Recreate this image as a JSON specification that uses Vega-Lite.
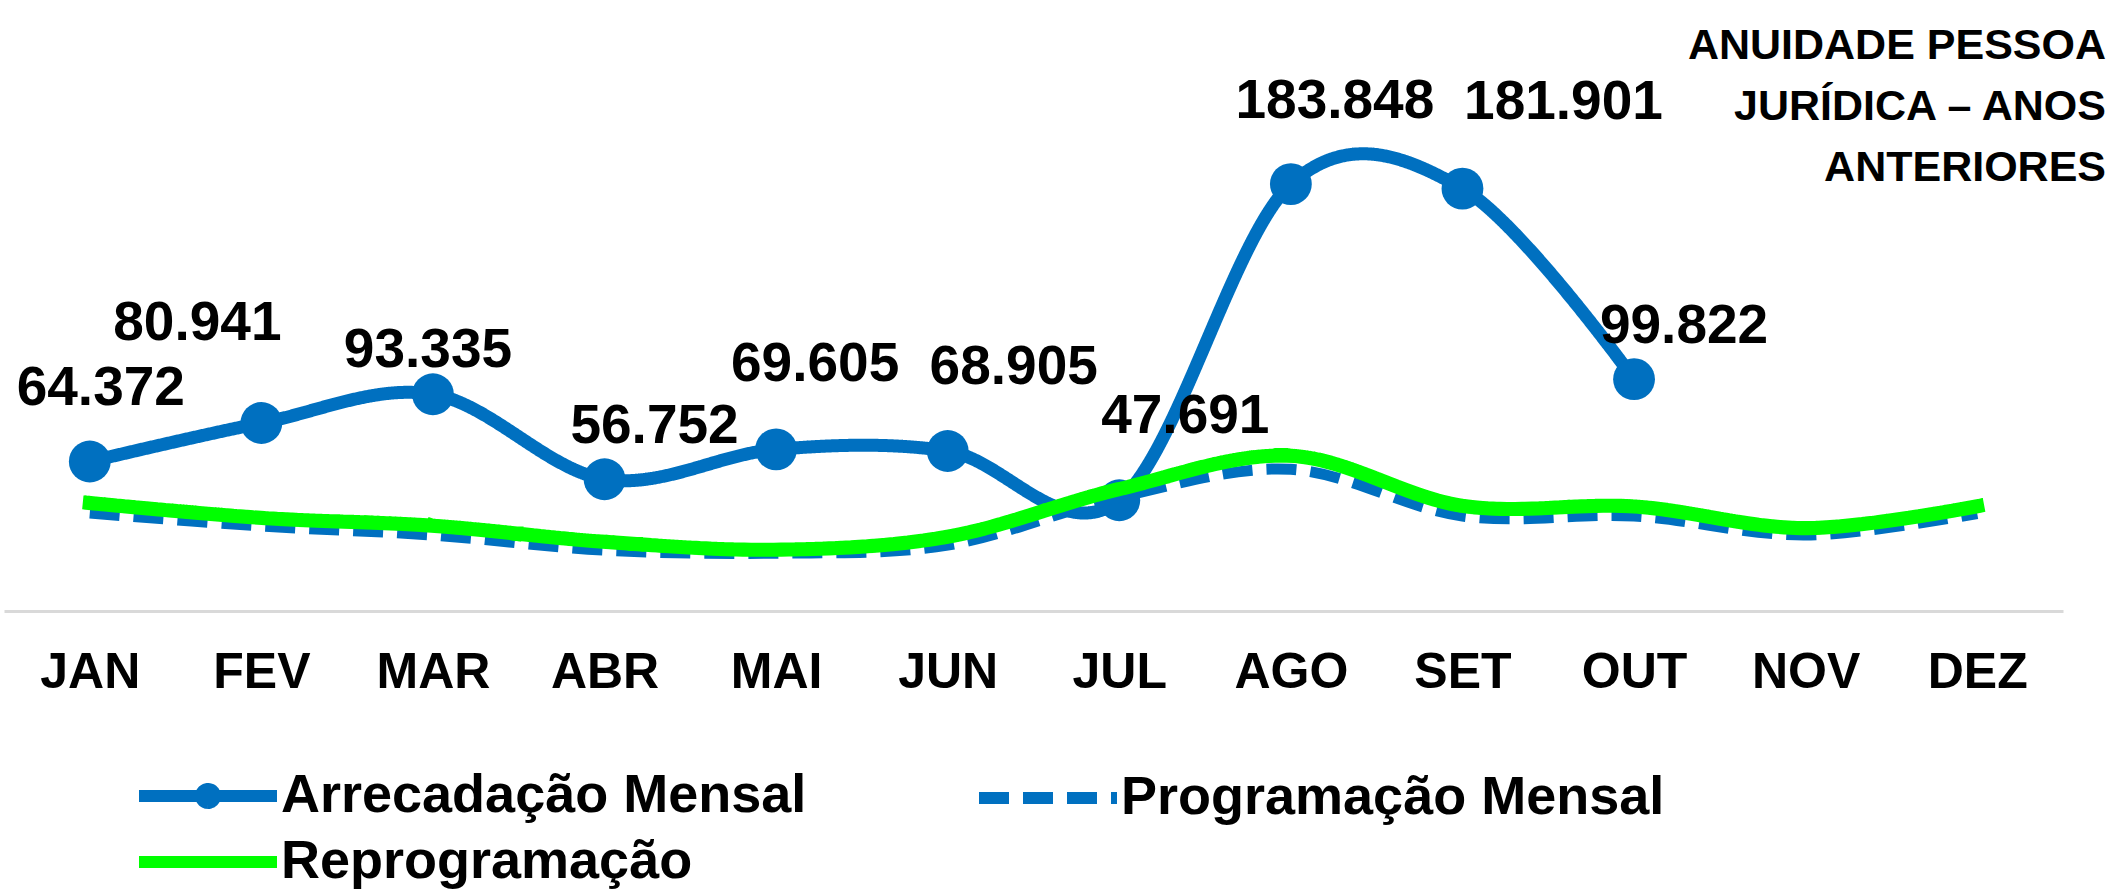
{
  "$schema": "https://vega.github.io/schema/vega-lite/v6.json",
  "width": 2059,
  "height": 418,
  "autosize": {"type": "none"},
  "padding": {"left": 4, "top": 193, "right": 50, "bottom": 280},
  "background": "white",
  "config": {"view": {"stroke": null}, "font": "Liberation Sans"},
  "title": {
    "text": ["ANUIDADE PESSOA", "JURÍDICA – ANOS", "ANTERIORES"],
    "anchor": "end",
    "frame": "group",
    "dx": 43,
    "dy": 122,
    "font": "Liberation Sans",
    "fontSize": 43,
    "fontWeight": "bold",
    "color": "black",
    "lineHeight": 61,
    "offset": 6
  },
  "data": {
    "values": [
      {"mes": "JAN", "serie": "Arrecadação Mensal", "valor": 64.372},
      {"mes": "FEV", "serie": "Arrecadação Mensal", "valor": 80.941},
      {"mes": "MAR", "serie": "Arrecadação Mensal", "valor": 93.335},
      {"mes": "ABR", "serie": "Arrecadação Mensal", "valor": 56.752},
      {"mes": "MAI", "serie": "Arrecadação Mensal", "valor": 69.605},
      {"mes": "JUN", "serie": "Arrecadação Mensal", "valor": 68.905},
      {"mes": "JUL", "serie": "Arrecadação Mensal", "valor": 47.691},
      {"mes": "AGO", "serie": "Arrecadação Mensal", "valor": 183.848},
      {"mes": "SET", "serie": "Arrecadação Mensal", "valor": 181.901},
      {"mes": "OUT", "serie": "Arrecadação Mensal", "valor": 99.822},
      {"mes": "JAN", "serie": "Programação Mensal", "valor": 42.2},
      {"mes": "FEV", "serie": "Programação Mensal", "valor": 36.6},
      {"mes": "MAR", "serie": "Programação Mensal", "valor": 32.7},
      {"mes": "ABR", "serie": "Programação Mensal", "valor": 26.2},
      {"mes": "MAI", "serie": "Programação Mensal", "valor": 24.9},
      {"mes": "JUN", "serie": "Programação Mensal", "valor": 28.4},
      {"mes": "JUL", "serie": "Programação Mensal", "valor": 49.0},
      {"mes": "AGO", "serie": "Programação Mensal", "valor": 61.0},
      {"mes": "SET", "serie": "Programação Mensal", "valor": 40.9},
      {"mes": "OUT", "serie": "Programação Mensal", "valor": 40.9},
      {"mes": "NOV", "serie": "Programação Mensal", "valor": 32.7},
      {"mes": "DEZ", "serie": "Programação Mensal", "valor": 42.0},
      {"mes": "JAN", "serie": "Reprogramação", "valor": 46.5},
      {"mes": "FEV", "serie": "Reprogramação", "valor": 40.1},
      {"mes": "MAR", "serie": "Reprogramação", "valor": 36.7},
      {"mes": "ABR", "serie": "Reprogramação", "valor": 29.8},
      {"mes": "MAI", "serie": "Reprogramação", "valor": 26.4},
      {"mes": "JUN", "serie": "Reprogramação", "valor": 32.0},
      {"mes": "JUL", "serie": "Reprogramação", "valor": 52.5},
      {"mes": "AGO", "serie": "Reprogramação", "valor": 66.8},
      {"mes": "SET", "serie": "Reprogramação", "valor": 45.3},
      {"mes": "OUT", "serie": "Reprogramação", "valor": 45.0},
      {"mes": "NOV", "serie": "Reprogramação", "valor": 35.7},
      {"mes": "DEZ", "serie": "Reprogramação", "valor": 45.1}
    ]
  },
  "encoding": {
    "x": {
      "field": "mes",
      "type": "ordinal",
      "scale": {"type": "point", "padding": 0.5, "domain": ["JAN", "FEV", "MAR", "ABR", "MAI", "JUN", "JUL", "AGO", "SET", "OUT", "NOV", "DEZ"]},
      "axis": {
        "title": null,
        "domainColor": "#D9D9D9",
        "domainWidth": 3,
        "ticks": false,
        "tickSize": 0,
        "grid": false,
        "labelPadding": 36,
        "labelFont": "Liberation Sans",
        "labelFontSize": 50,
        "labelFontWeight": "bold",
        "labelColor": "black",
        "labelAngle": 0
      }
    },
    "y": {
      "field": "valor",
      "type": "quantitative",
      "scale": {"domain": [0, 180], "nice": false, "zero": true},
      "axis": null
    }
  },
  "layer": [
    {
      "transform": [{"filter": "datum.serie === 'Arrecadação Mensal'"}],
      "mark": {"type": "line", "interpolate": "cardinal", "strokeWidth": 13, "strokeCap": "round", "clip": false},
      "encoding": {
        "color": {
          "field": "serie", "type": "nominal",
          "scale": {"domain": ["Arrecadação Mensal", "Programação Mensal", "Reprogramação"], "range": ["#0070C0", "#0070C0", "#00FF00"]},
          "legend": {
            "title": null, "orient": "none", "legendX": 177, "legendY": 576,
            "direction": "horizontal", "columns": 2,
            "symbolType": "stroke", "symbolSize": 1600, "symbolStrokeWidth": 12,
            "labelFont": "Liberation Sans", "labelFontSize": 54, "labelFontWeight": "bold", "labelColor": "black",
            "labelOffset": 46, "labelLimit": 1000, "columnPadding": 148, "rowPadding": 8, "padding": 0,
            "encode": {
              "symbols": {
                "update": {
                  "shape": {"signal": "datum.value === 'Arrecadação Mensal' ? 'M-3.45,0H3.45M0.35,0A0.35,0.35,0,1,1,-0.35,0A0.35,0.35,0,1,1,0.35,0Z' : 'M-3.45,0H3.45'"},
                  "fill": {"signal": "datum.value === 'Arrecadação Mensal' ? '#0070C0' : 'transparent'"}
                }
              }
            }
          }
        },
        "strokeDash": {
          "field": "serie", "type": "nominal",
          "scale": {"domain": ["Arrecadação Mensal", "Programação Mensal", "Reprogramação"], "range": [[1, 0], [30, 14], [1, 0]]}
        }
      }
    },
    {
      "transform": [{"filter": "datum.serie === 'Arrecadação Mensal'"}],
      "mark": {"type": "point", "filled": true, "size": 1750, "opacity": 1, "color": "#0070C0", "clip": false}
    },
    {
      "transform": [{"filter": "datum.serie === 'Programação Mensal'"}],
      "mark": {"type": "line", "interpolate": "cardinal", "strokeWidth": 11, "strokeCap": "butt"},
      "encoding": {
        "color": {"field": "serie", "type": "nominal"},
        "strokeDash": {"field": "serie", "type": "nominal"}
      }
    },
    {
      "transform": [{"filter": "datum.serie === 'Reprogramação'"}],
      "mark": {"type": "line", "interpolate": "cardinal", "strokeWidth": 14, "strokeCap": "square"},
      "encoding": {
        "color": {"field": "serie", "type": "nominal"},
        "strokeDash": {"field": "serie", "type": "nominal"}
      }
    },
    {
      "transform": [{"filter": "datum.serie === 'Arrecadação Mensal' && datum.mes === 'JAN'"}],
      "mark": {"type": "text", "font": "Liberation Sans", "fontSize": 55, "fontWeight": "bold", "color": "black", "align": "center", "baseline": "middle", "dx": 11, "dy": -74},
      "encoding": {"text": {"field": "valor", "type": "quantitative", "format": ".3f"}}
    },
    {
      "transform": [{"filter": "datum.serie === 'Arrecadação Mensal' && datum.mes === 'FEV'"}],
      "mark": {"type": "text", "font": "Liberation Sans", "fontSize": 55, "fontWeight": "bold", "color": "black", "align": "center", "baseline": "middle", "dx": -64, "dy": -100},
      "encoding": {"text": {"field": "valor", "type": "quantitative", "format": ".3f"}}
    },
    {
      "transform": [{"filter": "datum.serie === 'Arrecadação Mensal' && datum.mes === 'MAR'"}],
      "mark": {"type": "text", "font": "Liberation Sans", "fontSize": 55, "fontWeight": "bold", "color": "black", "align": "center", "baseline": "middle", "dx": -5, "dy": -44},
      "encoding": {"text": {"field": "valor", "type": "quantitative", "format": ".3f"}}
    },
    {
      "transform": [{"filter": "datum.serie === 'Arrecadação Mensal' && (datum.mes === 'ABR' || datum.mes === 'OUT')"}],
      "mark": {"type": "text", "font": "Liberation Sans", "fontSize": 55, "fontWeight": "bold", "color": "black", "align": "center", "baseline": "middle", "dx": 50, "dy": -53},
      "encoding": {"text": {"field": "valor", "type": "quantitative", "format": ".3f"}}
    },
    {
      "transform": [{"filter": "datum.serie === 'Arrecadação Mensal' && datum.mes === 'MAI'"}],
      "mark": {"type": "text", "font": "Liberation Sans", "fontSize": 55, "fontWeight": "bold", "color": "black", "align": "center", "baseline": "middle", "dx": 39, "dy": -85},
      "encoding": {"text": {"field": "valor", "type": "quantitative", "format": ".3f"}}
    },
    {
      "transform": [{"filter": "datum.serie === 'Arrecadação Mensal' && (datum.mes === 'JUN' || datum.mes === 'JUL')"}],
      "mark": {"type": "text", "font": "Liberation Sans", "fontSize": 55, "fontWeight": "bold", "color": "black", "align": "center", "baseline": "middle", "dx": 66, "dy": -84},
      "encoding": {"text": {"field": "valor", "type": "quantitative", "format": ".3f"}}
    },
    {
      "transform": [{"filter": "datum.serie === 'Arrecadação Mensal' && datum.mes === 'AGO'"}],
      "mark": {"type": "text", "font": "Liberation Sans", "fontSize": 55, "fontWeight": "bold", "color": "black", "align": "center", "baseline": "middle", "dx": 44, "dy": -83},
      "encoding": {"text": {"field": "valor", "type": "quantitative", "format": ".3f"}}
    },
    {
      "transform": [{"filter": "datum.serie === 'Arrecadação Mensal' && datum.mes === 'SET'"}],
      "mark": {"type": "text", "font": "Liberation Sans", "fontSize": 55, "fontWeight": "bold", "color": "black", "align": "center", "baseline": "middle", "dx": 101, "dy": -87},
      "encoding": {"text": {"field": "valor", "type": "quantitative", "format": ".3f"}}
    }
  ]
}
